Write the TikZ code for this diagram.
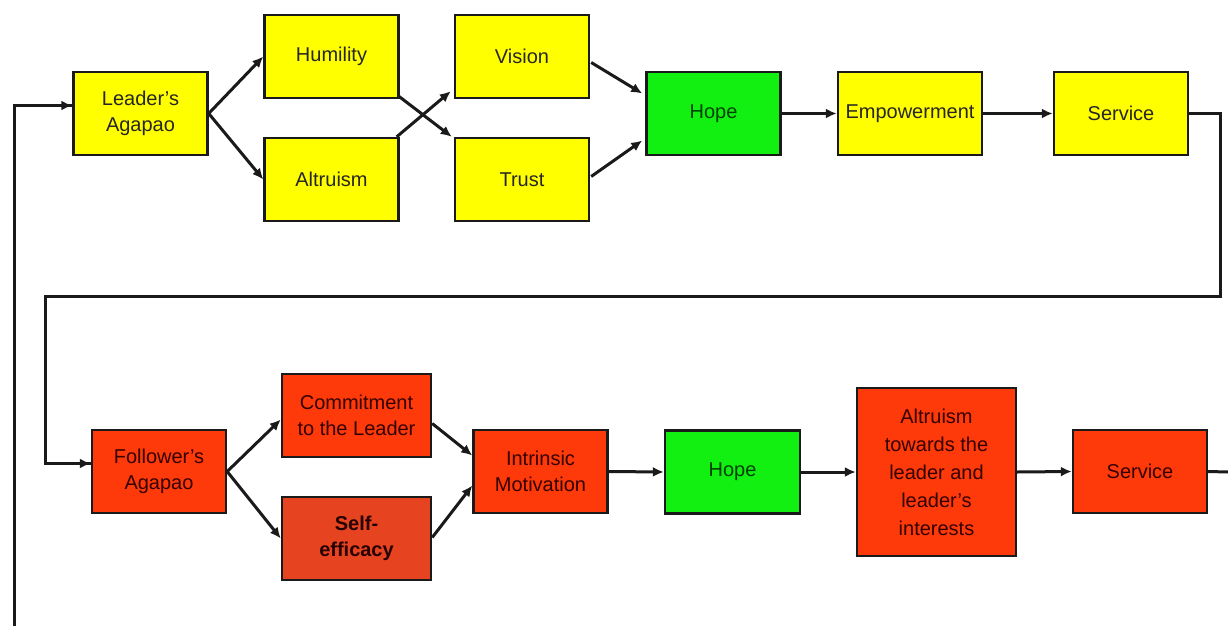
\documentclass[tikz,border=0pt]{standalone}
\usepackage{fontspec}
\setmainfont{Liberation Sans}
\usetikzlibrary{arrows.meta}
\definecolor{ybox}{HTML}{FFFF00}
\definecolor{gbox}{HTML}{11F011}
\definecolor{rbox}{HTML}{FF3A0A}
\definecolor{rbox2}{HTML}{E64420}
\definecolor{edge}{HTML}{1A1A1A}
\tikzset{
  box/.style={draw=edge, line width=2.4pt, inner sep=0pt, align=center,
    font=\fontsize{20}{26}\selectfont, text=black!85},
  wide/.style={box, minimum width=134pt, minimum height=83pt},
  yel/.style={wide, fill=ybox},
  grn/.style={wide, fill=gbox, text=black!75!green},
  red/.style={wide, fill=rbox, text=black!80!red},
  conn/.style={draw=edge, line width=3pt, -{Latex[length=11pt,width=10pt]}},
  plain/.style={draw=edge, line width=3pt}
}
\begin{document}
\begin{tikzpicture}[x=1pt,y=-1pt]
\useasboundingbox (0,0) rectangle (1228,626);
% top row
\node[yel] (la) at (140.5,113.5) {Leader’s\\Agapao};
\node[yel] (hu) at (331.5,56.5) {Humility};
\node[yel] (al) at (331.5,179.5) {Altruism};
\node[yel] (vi) at (522,56.5) {Vision};
\node[yel] (tr) at (522,179.5) {Trust};
\node[grn] (ho) at (713.5,113.5) {Hope};
\node[yel, minimum width=144pt] (em) at (910,113.5) {Empowerment};
\node[yel] (se) at (1121,113.5) {Service};
% bottom row
\node[red] (fa) at (159,471.5) {Follower’s\\Agapao};
\node[red, minimum width=149pt] (co) at (356.5,415.5) {Commitment\\to the Leader};
\node[wide, fill=rbox2, minimum width=149pt, text=black!85!red, font=\fontsize{20}{26}\selectfont\bfseries] (sf) at (356.5,538.5) {Self-\\efficacy};
\node[red] (im) at (540.5,471.5) {Intrinsic\\Motivation};
\node[grn, minimum width=135pt] (h2) at (732.5,472) {Hope};
\node[red, minimum width=159pt, minimum height=168pt, font=\fontsize{20}{28}\selectfont] (at) at (936.5,472) {Altruism\\towards the\\leader and\\leader’s\\interests};
\node[red] (s2) at (1140,471.5) {Service};
% coordinates for loops
\coordinate (rt) at (1220,296);
\coordinate (lt) at (45,296);
\coordinate (ll) at (14,626);
\coordinate (re) at (1228,472);
% top connectors
\draw[conn] (la.east) -- (hu.west);
\draw[conn] (la.east) -- (al.west);
\draw[conn] ([xshift=-1pt,yshift=3pt]hu.south east) -- ([xshift=-2pt]tr.north west);
\draw[conn] ([xshift=-3pt]al.north east) -- ([xshift=-3pt,yshift=8pt]vi.south west);
\draw[conn] ([xshift=1pt,yshift=-6pt]vi.east) -- ([xshift=-3pt,yshift=20pt]ho.west);
\draw[conn] ([xshift=1pt,yshift=3pt]tr.east) -- ([xshift=-3pt,yshift=-27pt]ho.west);
\draw[conn] (ho.east) -- (em.west);
\draw[conn] (em.east) -- (se.west);
% feedback loops
\draw[plain] (se.east) -| (rt) -- (lt) |- ([yshift=8pt]fa.west) coordinate (faIn);
\draw[conn] ([xshift=-30pt]faIn) -- (faIn);
\draw[plain] (ll) |- ([yshift=8pt]la.west) coordinate (laIn);
\draw[conn] ([xshift=-30pt]laIn) -- (laIn);
% bottom connectors
\draw[conn] (fa.east) -- ([yshift=-4pt]co.west);
\draw[conn] (fa.east) -- (sf.west);
\draw[conn] ([yshift=-8pt]co.east) -- ([yshift=16pt]im.west);
\draw[conn] ([yshift=1pt]sf.east) -- ([yshift=-14pt]im.west);
\draw[conn] (im.east) -- (h2.west);
\draw[conn] (h2.east) -- (at.west);
\draw[conn] (at.east) -- (s2.west);
\draw[plain] (s2.east) -- (re);
\end{tikzpicture}
\end{document}
